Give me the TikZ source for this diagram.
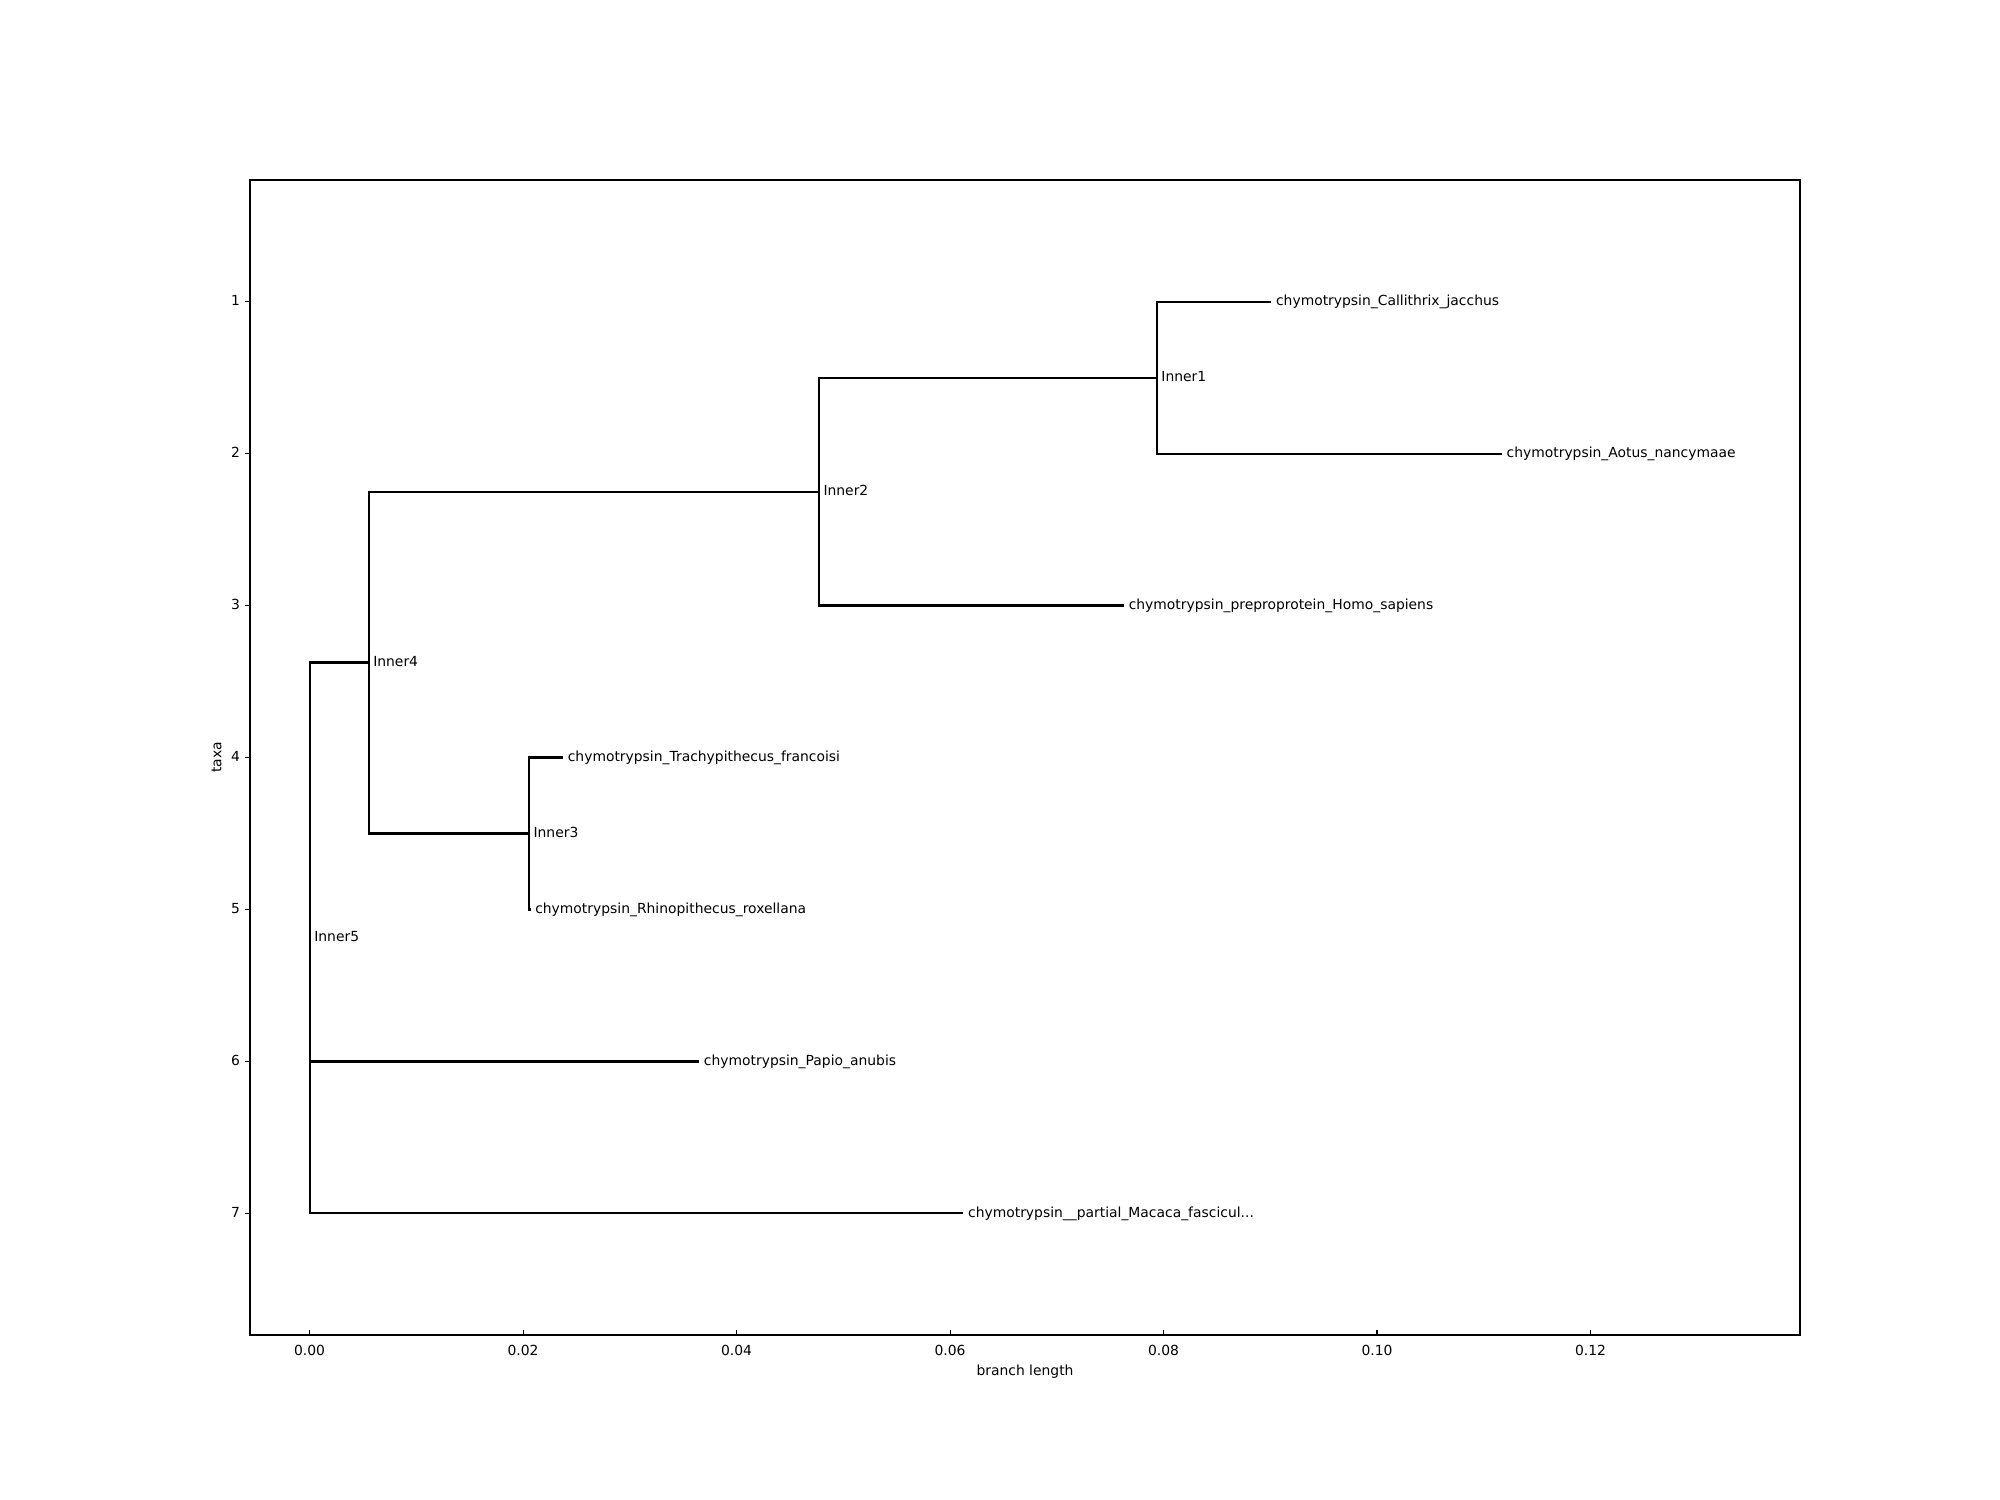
\documentclass[tikz,border=0pt]{standalone}
\usepackage{fontspec}
\setmainfont{DejaVu Sans}
\tikzset{
  branch/.style={line width=1.5bp},
  spine/.style={line width=0.8bp},
  txt/.style={inner sep=0pt, text height=0.76em, text depth=0.24em},
  taxon/.style={txt, anchor=west, inner xsep=3.2bp},
}
\begin{document}
\begin{tikzpicture}[x=1.0674in, y=-1.5197in, font=\fontsize{10bp}{12bp}\selectfont]
\useasboundingbox[fill=white] (-2.9007,-0.9845) rectangle (15.8362,8.8857);
% axes frame
\draw[spine] (-0.5585,0.2) rectangle (13.9625,7.8);
\foreach \t/\lab in {0/0.00,2/0.02,4/0.04,6/0.06,8/0.08,10/0.10,12/0.12}{
  \draw[spine] (\t,7.8) -- ++(0,3.5bp);
  \node[txt, anchor=north] (xt\t) at ([yshift=-7bp]\t,7.8) {\lab};
}
\foreach \t in {1,...,7}{
  \draw[spine] (-0.5585,\t) -- ++(-3.5bp,0);
  \node[txt, anchor=east] (yt\t) at ([xshift=-7bp]-0.5585,\t) {\t};
}
\node[txt, anchor=north] (xlab) at ([yshift=-21.5bp]6.702,7.8) {branch length};
\node[txt, anchor=south, rotate=90] (ylab) at ([xshift=-18bp]-0.5585,4) {taxa};
% tree points
\coordinate (inner5) at (0,5.1875);
\coordinate (inner4) at (0.552,3.375);
\coordinate (inner2) at (4.77,2.25);
\coordinate (inner1) at (7.936,1.5);
\coordinate (callithrix) at (9.01,1);
\coordinate (aotus) at (11.17,2);
\coordinate (homo) at (7.63,3);
\coordinate (inner3) at (2.054,4.5);
\coordinate (trachy) at (2.375,4);
\coordinate (rhino) at (2.07,5);
\coordinate (papio) at (3.65,6);
\coordinate (macaca) at (6.125,7);
% branches
\draw[branch] (inner5) |- (inner4);
\draw[branch] (inner5) |- (papio);
\draw[branch] (inner5) |- (macaca);
\draw[branch] (inner4) |- (inner2);
\draw[branch] (inner4) |- (inner3);
\draw[branch] (inner2) |- (inner1);
\draw[branch] (inner2) |- (homo);
\draw[branch] (inner1) |- (callithrix);
\draw[branch] (inner1) |- (aotus);
\draw[branch] (inner3) |- (trachy);
\draw[branch] (inner3) |- (rhino);
% labels
\node[taxon] (inner1-l) at (inner1) {Inner1};
\node[taxon] (inner2-l) at (inner2) {Inner2};
\node[taxon] (inner3-l) at (inner3) {Inner3};
\node[taxon] (inner4-l) at (inner4) {Inner4};
\node[taxon] (inner5-l) at (inner5) {Inner5};
\node[taxon] (callithrix-l) at (callithrix) {chymotrypsin\_Callithrix\_jacchus};
\node[taxon] (aotus-l) at (aotus) {chymotrypsin\_Aotus\_nancymaae};
\node[taxon] (homo-l) at (homo) {chymotrypsin\_preproprotein\_Homo\_sapiens};
\node[taxon] (trachy-l) at (trachy) {chymotrypsin\_Trachypithecus\_francoisi};
\node[taxon] (rhino-l) at (rhino) {chymotrypsin\_Rhinopithecus\_roxellana};
\node[taxon] (papio-l) at (papio) {chymotrypsin\_Papio\_anubis};
\node[taxon] (macaca-l) at (macaca) {chymotrypsin\_\_partial\_Macaca\_fascicul...};
\end{tikzpicture}
\end{document}
